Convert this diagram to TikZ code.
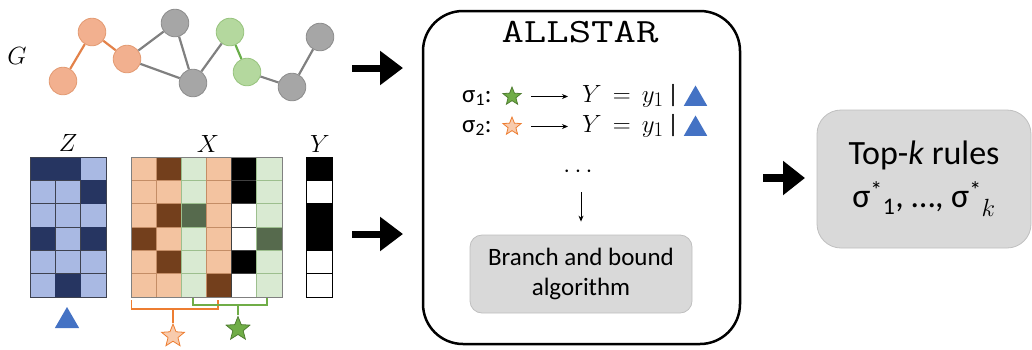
\documentclass[tikz,border=0pt]{standalone}
\usepackage{fontspec}
\setmainfont{Carlito}
\usepackage{graphicx}
\usetikzlibrary{shapes.geometric,arrows.meta}
\definecolor{onode}{HTML}{F2B08F}
\definecolor{onodeD}{HTML}{E39A72}
\definecolor{gnode}{HTML}{B4D89E}
\definecolor{gnodeD}{HTML}{97C37D}
\definecolor{grnode}{HTML}{A6A6A6}
\definecolor{grnodeD}{HTML}{8C8C8C}
\definecolor{oedge}{HTML}{E3824A}
\definecolor{gedge}{HTML}{6AAE4A}
\definecolor{gredge}{HTML}{808080}
\definecolor{zdark}{HTML}{263561}
\definecolor{zlight}{HTML}{A9B9E3}
\definecolor{zline}{HTML}{3E4250}
\definecolor{xol}{HTML}{F3C3A0}
\definecolor{xod}{HTML}{733F1C}
\definecolor{xgl}{HTML}{D9EAD2}
\definecolor{xgd}{HTML}{566A4D}
\definecolor{xoline}{HTML}{C48D66}
\definecolor{xgline}{HTML}{9DBF8E}
\definecolor{xbline}{HTML}{404040}
\definecolor{triblue}{HTML}{4472C4}
\definecolor{boxgray}{HTML}{D9D9D9}
\definecolor{boxline}{HTML}{BFBFBF}
\definecolor{stgreen}{HTML}{70AD47}
\definecolor{stgreenD}{HTML}{507E32}
\definecolor{storange}{HTML}{F8CBAD}
\definecolor{storangeD}{HTML}{ED7D31}
\tikzset{
  gn/.style={circle, minimum size=27.6pt, inner sep=0pt, line width=0.8pt},
  gorange/.style={gn, fill=onode, draw=onodeD},
  ggreen/.style={gn, fill=gnode, draw=gnodeD},
  ggray/.style={gn, fill=grnode, draw=grnodeD},
  eorange/.style={draw=oedge, line width=2.2pt},
  egreen/.style={draw=gedge, line width=2.2pt},
  egray/.style={draw=gredge, line width=2.2pt},
  lbl/.style={inner sep=0pt, font=\fontsize{26}{30}\selectfont},
  bigarrow/.style={line width=7pt, -{Triangle[length=23pt,width=33pt]}},
  tri/.style={regular polygon, regular polygon sides=3, fill=triblue, inner sep=0pt},
  mystar/.style={star, star points=5, star point ratio=2.3, inner sep=0pt, line width=0.8pt},
  rtext/.style={inner sep=0pt, anchor=base west, font=\fontsize{25}{30}\selectfont},
  mtext/.style={inner sep=0pt, anchor=base west, font=\fontsize{30}{32}\selectfont},
  graybox/.style={rectangle, fill=boxgray, draw=boxline, line width=0.8pt, align=center, inner sep=0pt},
  smallarrow/.style={line width=0.9pt, -{Stealth[length=6pt,width=5pt]}},
}
\newcommand{\ruleeq}{$Y\mkern8mu{=}\mkern8mu y_1$}
\begin{document}
\begin{tikzpicture}[x=1pt,y=-1pt]
\useasboundingbox (0,0) rectangle (1032,349);

% ---- graph G
\node[lbl] (Glab) at (17,56) {$G$};
\node[gorange] (o1) at (63,81) {};
\node[gorange] (o2) at (92,32) {};
\node[gorange] (o3) at (127,59) {};
\node[ggray] (g1) at (175,23) {};
\node[ggray] (g2) at (193,83) {};
\node[ggreen] (n1) at (230,32) {};
\node[ggreen] (n2) at (247,72) {};
\node[ggray] (g4) at (292,87) {};
\node[ggray] (g3) at (320,37) {};
\draw[eorange] (o1) -- (o2);
\draw[eorange] (o2) -- (o3);
\draw[egray] (o3) -- (g1);
\draw[egray] (o3) -- (g2);
\draw[egray] (g1) -- (g2);
\draw[egray] (g2) -- (n1);
\draw[egreen] (n1) -- (n2);
\draw[egray] (n2) -- (g4);
\draw[egray] (g4) -- (g3);

% ---- Z matrix
\node[lbl] (Zlab) at (68,143) {$Z$};
\fill[zlight] (30,157) rectangle (106,297);
\foreach \i in {0,1,2} \foreach \j in {0,...,5}
  \draw[zline, line width=0.9pt] ({30+\i*25.33},{157+\j*23.33}) rectangle +(25.33,23.33);
\foreach \i/\j in {2/1, 0/3, 2/3, 1/5}
  \fill[zdark] ({30+\i*25.33},{157+\j*23.33}) rectangle +(25.33,23.33);
\fill[zdark] (30,157) rectangle +(50.66,23.33);
\draw[zline, line width=1pt] (30,157) rectangle (106,297);
\node[tri, minimum size=28pt] (ztri) at (67,321) {};

% ---- X matrix
\node[lbl] (Xlab) at (208,144) {$X$};
\foreach \i/\c in {0/xol,1/xol,2/xgl,3/xol,4/white,5/xgl}
  \fill[\c] ({131+\i*25.17},157) rectangle +(25.17,140);
\foreach \i/\j/\c in {0/3/xod, 1/0/xod, 1/2/xod, 1/4/xod, 2/2/xgd, 3/5/xod, 4/0/black, 4/1/black, 4/4/black, 5/3/xgd}
  \fill[\c] ({131+\i*25.17},{157+\j*23.33}) rectangle +(25.17,23.33);
\foreach \i/\c in {0/xoline,1/xoline,2/xgline,3/xoline,4/xbline,5/xgline}
  \foreach \j in {0,...,5}
    \draw[\c, line width=0.8pt] ({131+\i*25.17},{157+\j*23.33}) rectangle +(25.17,23.33);
\draw[gredge, line width=1pt] (131,157) rectangle (282,297);

% ---- Y column
\node[lbl] (Ylab) at (320,144) {$Y$};
\foreach \j/\c in {0/black,1/white,2/black,3/black,4/white,5/white}
  \fill[\c] (306,{157+\j*23.33}) rectangle +(26,23.33);
\foreach \j in {0,1,3,4,5}
  \draw[black, line width=0.9pt] (306,{157+\j*23.33}) rectangle +(26,23.33);
\draw[black, line width=1pt] (306,157) rectangle (332,297);

% ---- brackets and stars under X
\draw[storangeD, line width=1.3pt] (131.5,300) -- (131.5,309) -- (218,309) -- (218,300);
\draw[stgreen, line width=1.3pt] (193,298) -- (193,305) -- (267,305) -- (267,298);
\node[mystar, minimum size=24pt, fill=storange, draw=storangeD] (ostar) at (173,336) {};
\node[mystar, minimum size=25pt, fill=stgreen, draw=stgreenD] (gstar) at (238,329) {};
\coordinate (obr) at (173,309);
\coordinate (gbr) at (238,305);
\draw[storangeD, line width=1.3pt] (obr) -- (ostar);
\draw[stgreen, line width=1.3pt] (gbr) -- (gstar);

% ---- big arrows
\coordinate (a1s) at (352,68);
\coordinate (a1e) at (403,68);
\coordinate (a2s) at (352,234);
\coordinate (a2e) at (403,234);
\draw[bigarrow] (a1s) -- (a1e);
\draw[bigarrow] (a2s) -- (a2e);

% ---- ALLSTAR box
\node[rectangle, draw=black, line width=2.5pt, rounded corners=40pt,
      minimum width=317pt, minimum height=333pt, inner sep=0pt] (allstar) at (581.5,177.5) {};
\node[inner sep=0pt, anchor=base] (title) at (580,42)
  {\scalebox{1.28}[1]{\fontsize{34}{36}\selectfont\ttfamily ALLSTAR}};

% rule 1
\node[rtext] (s1) at (462,102) {σ\textsubscript{1}:};
\node[mystar, minimum size=19pt, fill=stgreen, draw=stgreenD] (st1) at (512,96.5) {};
\node[mtext] (Y1) at (582,102) {\ruleeq};
\node[rtext, anchor=base] (bar1) at (673,102) {|};
\node[tri, minimum size=27pt] (t1) at (695.5,99) {};
\draw[smallarrow, shorten <=13pt, shorten >=14pt] (st1.east) -- (st1.east -| Y1.west);

% rule 2
\node[rtext] (s2) at (462,132) {σ\textsubscript{2}:};
\node[mystar, minimum size=19pt, fill=storange, draw=storangeD] (st2) at (512,126.5) {};
\node[mtext] (Y2) at (582,132) {\ruleeq};
\node[rtext, anchor=base] (bar2) at (673,132) {|};
\node[tri, minimum size=27pt] (t2) at (695.5,129) {};
\draw[smallarrow, shorten <=13pt, shorten >=14pt] (st2.east) -- (st2.east -| Y2.west);

\node[inner sep=0pt, font=\fontsize{30}{30}\selectfont] (dots) at (578,172) {$\cdots$};

\node[graybox, rounded corners=12pt, minimum width=222pt, minimum height=78pt,
      font=\fontsize{25}{30}\selectfont] (branch) at (581,274) {Branch and bound\\algorithm};
\coordinate (arrS) at (581,192);
\draw[smallarrow, shorten >=13pt] (arrS) -- (branch);

% ---- output
\coordinate (a3s) at (763,178);
\coordinate (a3e) at (805,178);
\draw[line width=8pt, -{Triangle[length=22pt,width=33pt]}] (a3s) -- (a3e);
\node[graybox, rounded corners=24pt, minimum width=214pt, minimum height=138pt,
      font=\fontsize{34}{43}\selectfont] (topk) at (924,179)
  {Top-\textit{k} rules\\σ\textsuperscript{*}\textsubscript{1}, …, σ\textsuperscript{*}\textsubscript{$k$}};
\end{tikzpicture}
\end{document}
